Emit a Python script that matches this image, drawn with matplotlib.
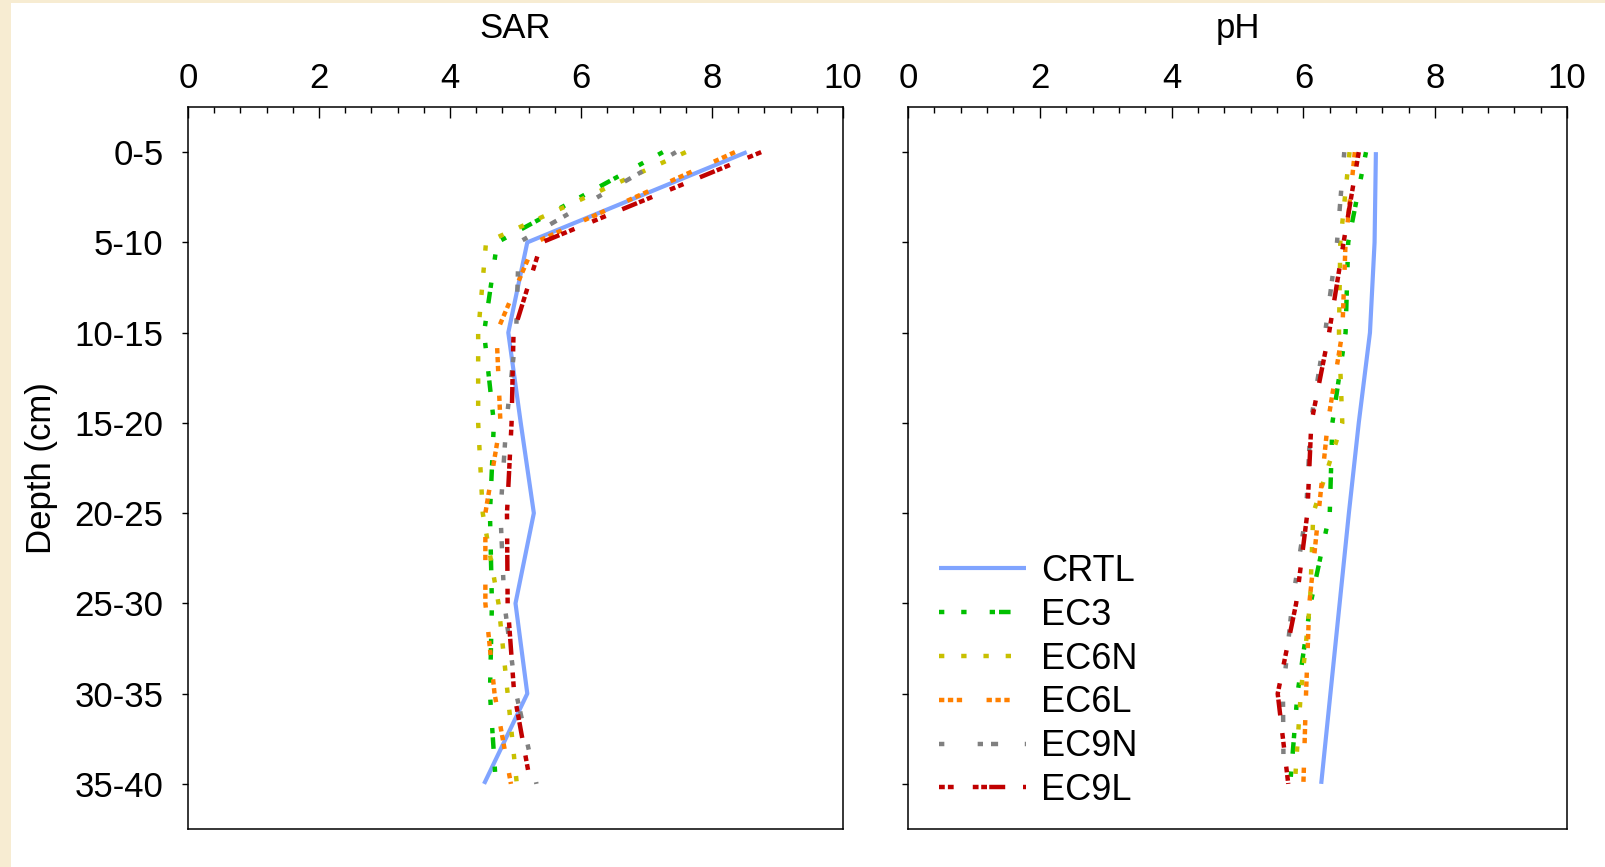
import numpy as np
import matplotlib
matplotlib.use('Agg')
import matplotlib.pyplot as plt
from matplotlib.patches import Rectangle

plt.rcParams['font.family'] = ['Liberation Sans', 'DejaVu Sans']

depths = ["0-5", "5-10", "10-15", "15-20", "20-25", "25-30", "30-35", "35-40"]
series = ["CRTL", "EC3", "EC6N", "EC6L", "EC9N", "EC9L"]

sar_crtl = [8.53, 5.18, 4.89, 5.08, 5.28, 5.00, 5.18, 4.52]
sar_ec3 = [7.25, 4.72, 4.52, 4.67, 4.61, 4.64, 4.61, 4.70]
sar_ec6n = [7.60, 4.55, 4.43, 4.43, 4.50, 4.74, 4.88, 5.02]
sar_ec6l = [8.35, 5.30, 4.71, 4.77, 4.54, 4.54, 4.68, 4.93]
sar_ec9n = [7.45, 5.05, 5.01, 4.86, 4.77, 4.83, 5.01, 5.32]
sar_ec9l = [8.75, 5.40, 4.97, 4.94, 4.87, 4.88, 4.98, 5.23]

ph_crtl = [7.10, 7.08, 7.01, 6.84, 6.69, 6.55, 6.41, 6.27]
ph_ec3 = [6.95, 6.68, 6.64, 6.44, 6.40, 6.11, 5.91, 5.80]
ph_ec6n = [6.70, 6.56, 6.54, 6.59, 6.15, 6.10, 5.96, 5.87]
ph_ec6l = [6.78, 6.64, 6.59, 6.37, 6.23, 6.09, 6.04, 6.00]
ph_ec9n = [6.62, 6.51, 6.33, 6.11, 6.04, 5.83, 5.69, 5.70]
ph_ec9l = [6.84, 6.61, 6.39, 6.12, 6.06, 5.89, 5.61, 5.77]

colors = ["#80a4ff", "#00c000", "#c8c000", "#ff8000", "#808080", "#c00000"]
dashes = [None,
          (1.2, 3.8, 1.2, 5.2, 1.2, 0.9, 2.6, 4.0),
          (1.2, 3.8),
          (1.2, 0.8, 1.2, 0.8, 1.2, 5.5),
          (1.2, 7.5, 1.2, 1.8, 1.6, 6.0),
          (1.3, 0.7, 1.3, 4.3, 1.3, 0.6, 1.3, 0.5, 3.6, 4.0)]

sar = [sar_crtl, sar_ec3, sar_ec6n, sar_ec6l, sar_ec9n, sar_ec9l]
ph = [ph_crtl, ph_ec3, ph_ec6n, ph_ec6l, ph_ec9n, ph_ec9l]

fig = plt.figure(figsize=(16.05, 8.67), dpi=100, facecolor="#f7ecd2")
fig.patches.append(Rectangle((11 / 1605, 0), 1, 1 - 3 / 867, transform=fig.transFigure,
                             facecolor="white", edgecolor="none", zorder=-5))

ax1 = fig.add_axes([188 / 1605, 38 / 867, 655 / 1605, 722 / 867])
ax2 = fig.add_axes([908 / 1605, 38 / 867, 659 / 1605, 722 / 867])

y = np.arange(len(depths))
for ax, data, title in [(ax1, sar, "SAR"), (ax2, ph, "pH")]:
    for name, vals, c, d in zip(series, data, colors, dashes):
        if d is None:
            ax.plot(vals, y, color=c, lw=3.0, label=name, solid_capstyle="butt")
        else:
            ax.plot(vals, y, color=c, lw=3.2, dashes=d, label=name, dash_capstyle="butt")
    ax.set_xlim(0, 10)
    ax.set_ylim(len(depths) - 0.5, -0.5)
    ax.xaxis.tick_top()
    ax.xaxis.set_label_position("top")
    ax.set_xticks(np.arange(0, 11, 2))
    ax.set_xticks(np.arange(0, 10.01, 0.4), minor=True)
    ax.tick_params(axis="x", which="major", direction="in", length=8, width=1,
                   labelsize=25, pad=9)
    ax.tick_params(axis="x", which="minor", direction="in", length=4.3, width=1)
    ax.set_yticks(y)
    ax.tick_params(axis="y", which="major", direction="out", length=4.5, width=1,
                   labelsize=25, pad=13)
    ax.set_xlabel(title, fontsize=25, labelpad=17)
    for s in ax.spines.values():
        s.set_linewidth(1.1)

ax1.set_yticklabels(depths)
ax1.set_ylabel("Depth (cm)", fontsize=25, labelpad=12)
ax2.set_yticklabels([])

ax2.legend(loc="lower left", bbox_to_anchor=(0.009, -0.006), frameon=False, fontsize=26,
           handlelength=2.4, handletextpad=0.42, labelspacing=0.245, borderaxespad=0.3)

fig.savefig("out.png", dpi=100, facecolor=fig.get_facecolor())
